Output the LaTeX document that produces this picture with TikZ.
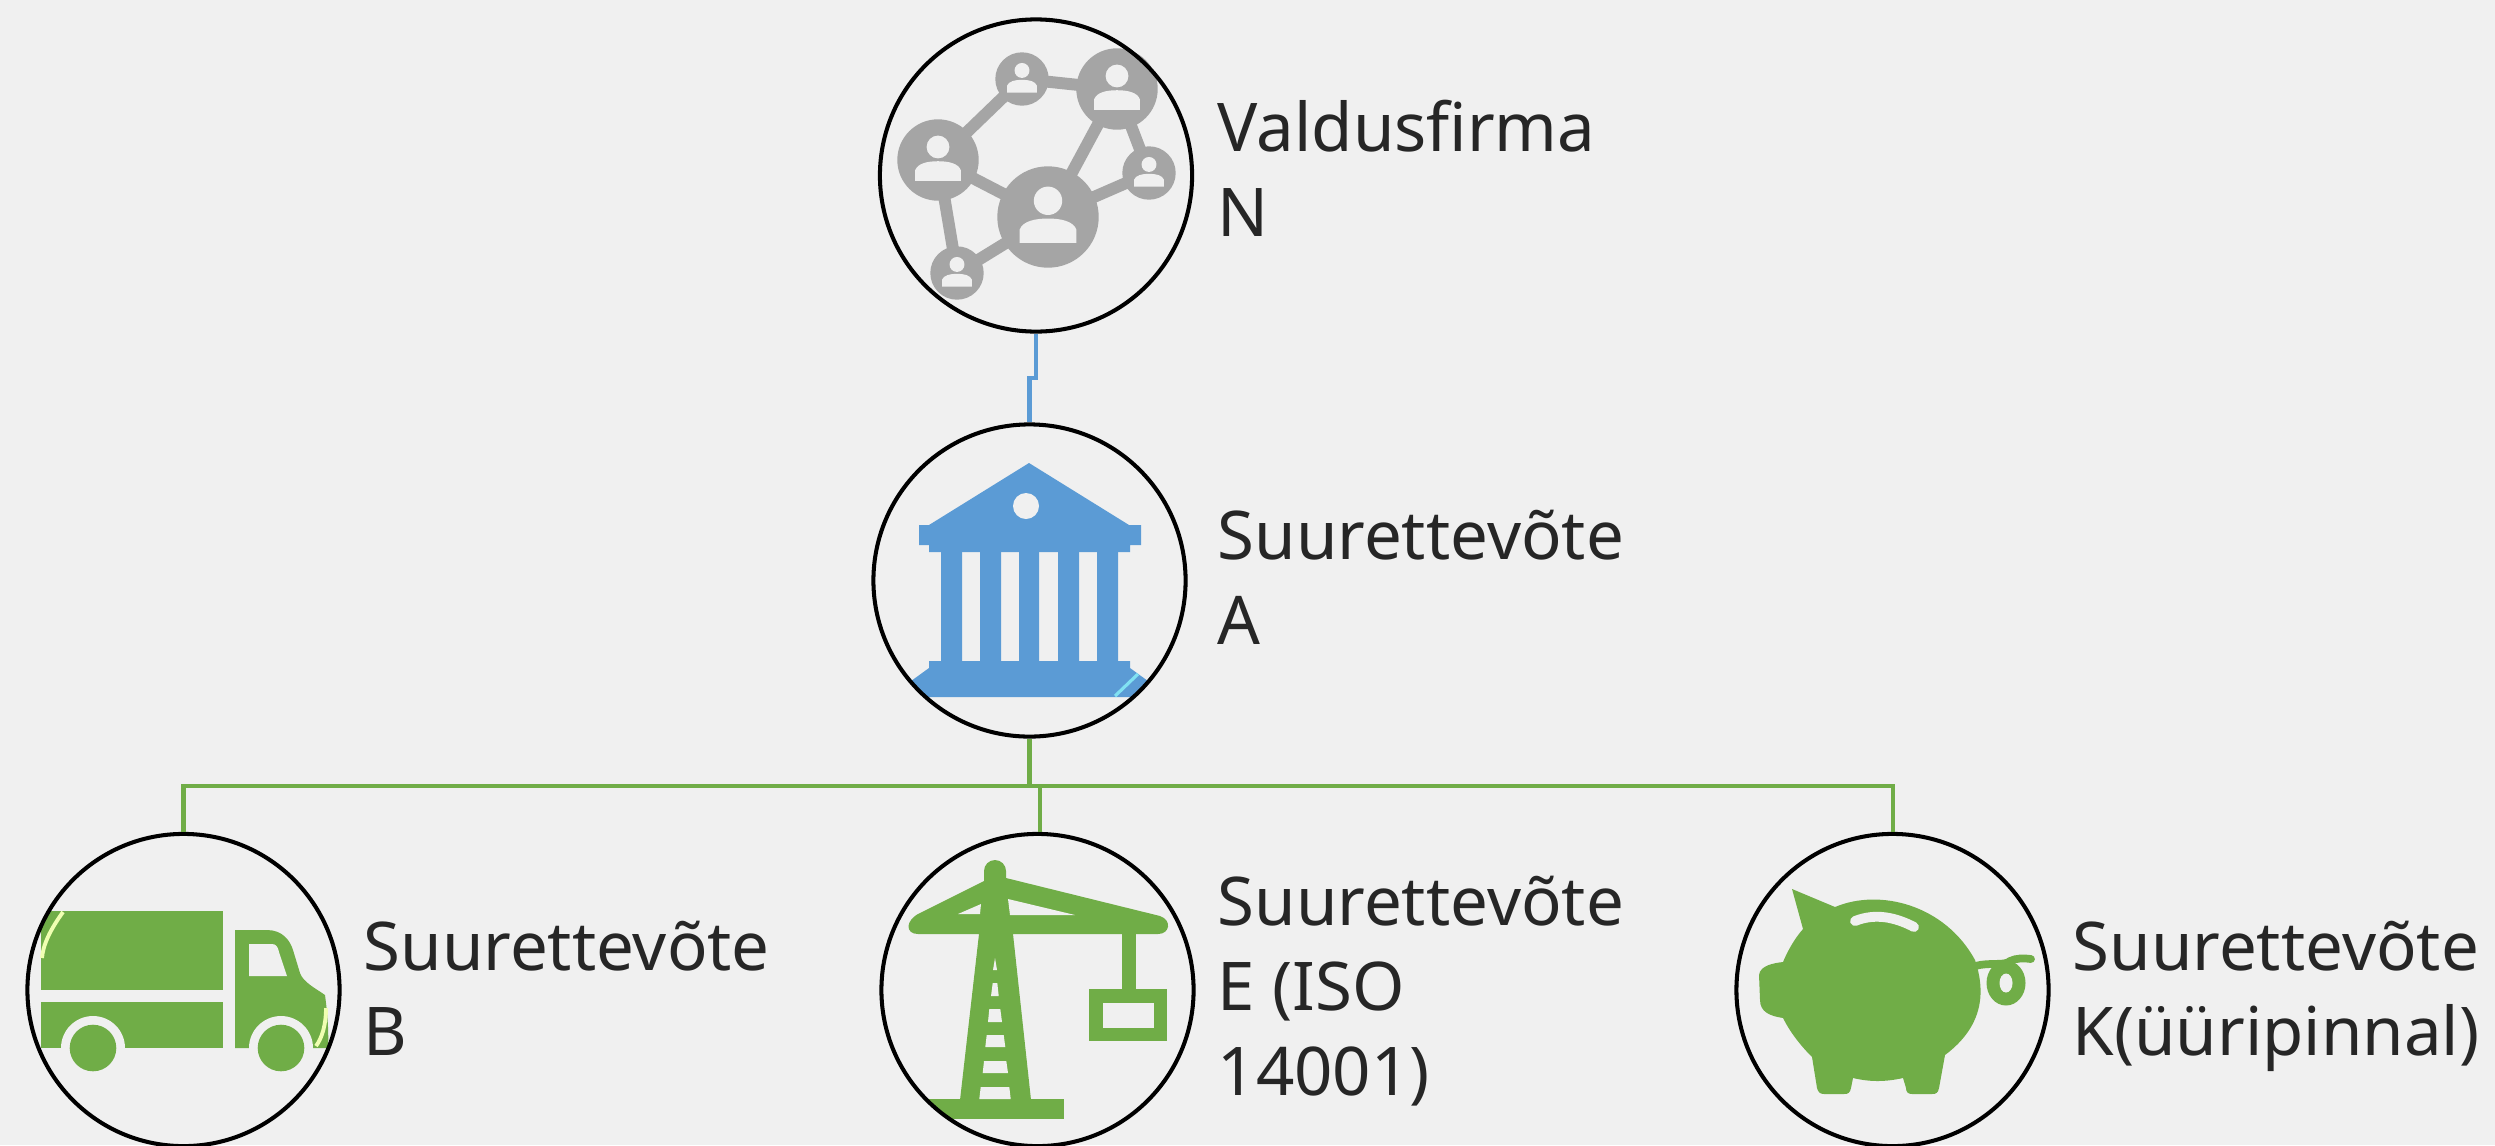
\documentclass[tikz,border=0pt]{standalone}
\usepackage{fontspec}
\setmainfont{Noto Sans}
\definecolor{pagebg}{HTML}{F0F0F0}
\definecolor{iconblue}{HTML}{5B9BD5}
\definecolor{icongreen}{HTML}{70AD47}
\definecolor{icongray}{HTML}{A5A5A5}
\definecolor{labelgray}{HTML}{262626}
\tikzset{
    firm/.style={circle, draw=black, line width=1.15pt, inner sep=0pt, minimum size=3.12cm},
    firmlabel/.style={anchor=west, align=left, inner sep=0pt, text=labelgray, font=\fontsize{19.1}{24.2}\selectfont},
    bluelink/.style={draw=iconblue, line width=1.2pt},
    greenlink/.style={draw=icongreen, line width=1.15pt},
    netlink/.style={draw=icongray, line width=3.4pt},
    personicon/.pic={
        \fill[icongray] (0,0) circle [radius=100];
        \fill[pagebg] (0,-32) circle [radius=28];
        \fill[pagebg] (-56,51) -- (-56,25) .. controls (-50,8) and (-25,3) .. (0,3) .. controls (25,3) and (50,8) .. (56,25) -- (56,51) -- cycle;
    },
}

\begin{document}
\begin{tikzpicture}[x=0.01cm, y=-0.01cm]
    \fill[pagebg] (0,0) rectangle (2495,1145);
    \useasboundingbox (0,0) rectangle (2495,1145);

    \draw[netlink] (1022,79) -- (938,160) -- (1048,217) -- (1117,89) -- (1022,79);
    \draw[netlink] (1117,89) -- (1149,173) -- (1048,217) -- (957,273) -- (938,160);
    \pic[scale=0.267] at (1022,79) {personicon};
    \pic[scale=0.407] at (1117,89) {personicon};
    \pic[scale=0.407] at (938,160) {personicon};
    \pic[scale=0.507] at (1048,217) {personicon};
    \pic[scale=0.267] at (1149,173) {personicon};
    \pic[scale=0.267] at (957,273) {personicon};

    \begin{scope}
        \clip (1029.5,580.5) circle [radius=156];
        \fill[iconblue] (1029,463) -- (1129,525) -- (1141,525) -- (1141,545) -- (1130,545) -- (1130,552) -- (929,552) -- (929,545) -- (919,545) -- (919,525) -- (929,525) -- cycle;
        \fill[iconblue] (941,551) rectangle (962,662) (980,551) rectangle (1001,662) (1019,551) rectangle (1039,662) (1058,551) rectangle (1079,662) (1097,551) rectangle (1118,662);
        \fill[iconblue] (929,661) -- (1130,661) -- (1130,668) -- (1170,697) -- (889,697) -- (929,668) -- cycle;
        \draw[color=iconblue!50!cyan!60!white, line width=0.9pt] (1115,696) -- (1138,674);
    \end{scope}
    \fill[pagebg] (1026,506) circle [radius=13];

    \begin{scope}
        \clip (183.5,990) circle [radius=156];
        \fill[icongreen] (41,911) rectangle (223,990);
        \fill[icongreen] (41,1002) rectangle (223,1048);
        \fill[icongreen] (235,930) -- (267,930) .. controls (282,930) and (290,940) .. (293,950) -- (300,973) .. controls (303,982) and (315,988) .. (325,995) .. controls (327,1010) and (329,1030) .. (328,1048) -- (235,1048) -- cycle;
        \draw[color=green!20!yellow!30!white, line width=1.1pt] (63,912) .. controls (50,930) and (43,945) .. (42,958);
        \draw[color=green!20!yellow!30!white, line width=1.1pt] (326,1008) .. controls (326,1025) and (322,1038) .. (316,1046);
    \end{scope}
    \fill[pagebg] (249,944) -- (272,944) .. controls (276,944) and (278,947) .. (279,952) -- (287,976) -- (249,976) -- cycle;
    \fill[pagebg] (93,1048) circle [radius=32];
    \fill[pagebg] (281,1048) circle [radius=32];
    \fill[icongreen] (93,1048) circle [radius=23.3];
    \fill[icongreen] (281,1048) circle [radius=23.3];

    \begin{scope}
        \clip (1037.5,990) circle [radius=156];
        \fill[icongreen] (979,934) -- (1013,934) -- (1031,1100) -- (960,1100) -- cycle;
        \fill[icongreen] (880,1099) rectangle (1064,1119);
    \end{scope}
    \fill[icongreen] (984,871) arc [start angle=180, end angle=360, radius=11] -- (1006,878) -- (1160,916) .. controls (1172,920) and (1170,934) .. (1158,934) -- (918,934) .. controls (905,934) and (905,920) .. (920,913) -- (984,881) -- cycle;
    \fill[icongreen] (1122,930) rectangle (1136,990);
    \fill[icongreen] (1089,989) rectangle (1167,1041);
    \fill[pagebg] (1103,1003) rectangle (1154,1028);
    \fill[pagebg] (958,914) -- (981,904) -- (980,914) -- cycle;
    \fill[pagebg] (1008,899) -- (1075,915) -- (1010,915) -- cycle;
    \fill[pagebg] (995,958) -- (997,970) -- (993,970) -- cycle;
    \fill[pagebg] (992.7,983) -- (997.3,983) -- (998.7,996) -- (991,996) -- cycle;
    \fill[pagebg] (989.3,1009) -- (1000.3,1009) -- (1002,1022) -- (988,1022) -- cycle;
    \fill[pagebg] (986.7,1035) -- (1003.7,1035) -- (1005.3,1047) -- (985.3,1047) -- cycle;
    \fill[pagebg] (984,1061) -- (1006.3,1061) -- (1008,1073) -- (982.7,1073) -- cycle;
    \fill[pagebg] (980.7,1087) -- (1009.3,1087) -- (1010.7,1099) -- (979.3,1099) -- cycle;

    \fill[icongreen] (1792,889) -- (1835,907) .. controls (1880,888) and (1945,905) .. (1975,960) .. controls (1985,990) and (1985,1025) .. (1945,1055) -- (1939,1088) .. controls (1938,1093) and (1936,1094) .. (1932,1094) -- (1912,1094) .. controls (1908,1094) and (1906,1092) .. (1906,1088) -- (1903,1078) .. controls (1885,1082) and (1870,1082) .. (1853,1078) -- (1851,1088) .. controls (1850,1093) and (1848,1094) .. (1844,1094) -- (1824,1094) .. controls (1820,1094) and (1818,1092) .. (1817,1088) -- (1812,1057) .. controls (1800,1045) and (1790,1032) .. (1783,1018) .. controls (1770,1016) and (1760,1012) .. (1760,1000) -- (1759,975) .. controls (1760,965) and (1775,963) .. (1783,962) .. controls (1788,950) and (1795,938) .. (1803,929) -- cycle;
    \draw[pagebg, line width=2.8pt, line cap=round] (1855,921) .. controls (1875,913) and (1895,917) .. (1914,927);
    \draw[icongreen, line width=2.2pt, line cap=round] (1975,966) .. controls (1990,962) and (2005,966) .. (2010,961) .. controls (2016,958) and (2024,958) .. (2031,959);
    \fill[icongreen] (2006,983) ellipse [x radius=19.5, y radius=22.5];
    \fill[pagebg] (2006,983) ellipse [x radius=6.5, y radius=9.5];

    \node[firm] (firmaN) at (1036,175.5) {};
    \node[firm] (firmaA) at (1029.5,580.5) {};
    \node[firm] (firmaB) at (183.5,990) {};
    \node[firm] (firmaE) at (1037.5,990) {};
    \node[firm] (firmaK) at (1892.5,990) {};

    \coordinate (jog) at (1029.5,378);
    \coordinate (bus) at (1029.5,786);
    \draw[bluelink] (firmaN.south) |- (jog) -- (firmaA.north);
    \draw[greenlink, line width=1.6pt] (firmaA.south) -- (bus);
    \draw[greenlink] (firmaB.north) |- (bus) -| (firmaK.north);
    \draw[greenlink] (firmaE.89.5) -- (firmaE.89.5 |- bus);

    \node[firmlabel] (labelN) at (1217,168) {Valdusfirma\\N};
    \node[firmlabel] (labelA) at (1217,577) {Suurettevõte\\A};
    \node[firmlabel] (labelB) at (363,988) {Suurettevõte\\B};
    \node[firmlabel] (labelE) at (1217,991) {Suurettevõte\\E (ISO\\14001)};
    \node[firmlabel] (labelK) at (2072,996) {Suurettevõte\\K(üüripinnal)};
\end{tikzpicture}
\end{document}
